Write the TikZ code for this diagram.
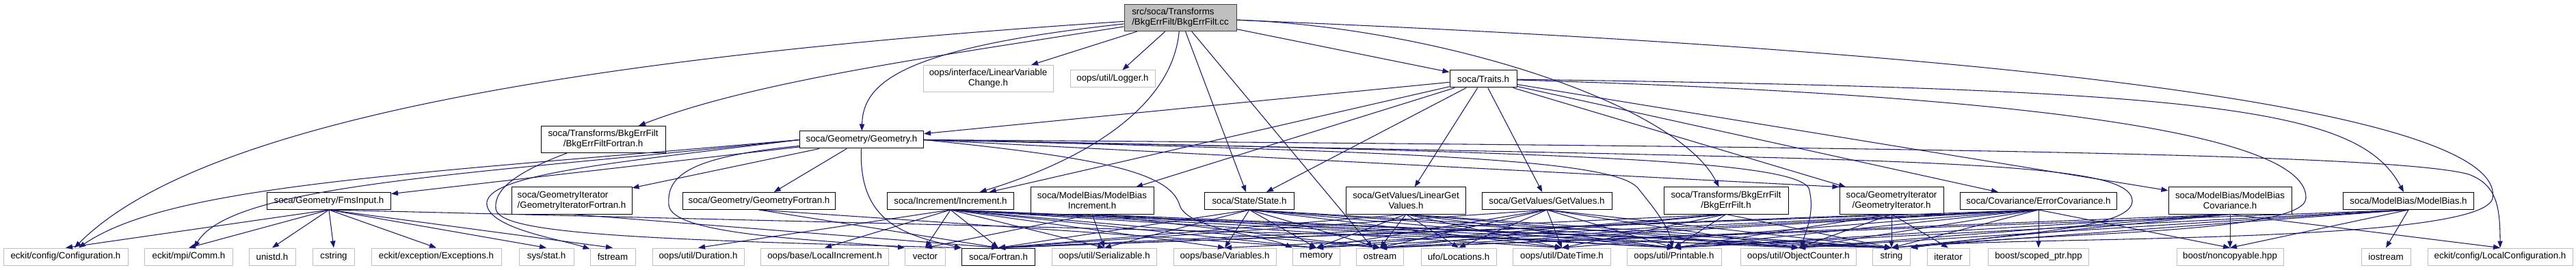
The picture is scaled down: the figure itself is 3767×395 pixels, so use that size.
\documentclass[tikz,border=0pt]{standalone}
\usepackage{fontspec}
\setmainfont{Liberation Sans}
\usetikzlibrary{arrows.meta}
\definecolor{edgeblue}{HTML}{191970}
\definecolor{extgray}{HTML}{BFBFBF}

\begin{document}
\begin{tikzpicture}[x=0.75pt,y=-0.75pt]
\tikzset{
file box/.style={rectangle,inner sep=0pt,minimum height=18.75pt,line width=0.75pt,font=\fontsize{10}{11.25}\selectfont,align=center},
soca node/.style={file box,draw=black},
ext node/.style={file box,draw=extgray},
root node/.style={file box,draw=black!75,fill=extgray},
two lines/.style={minimum height=29.25pt},
wd/.style={minimum width=#1*0.75pt},
dep/.style={edgeblue,line width=0.8pt,-{Triangle[length=7.5pt,width=5.5pt]}}
}
\useasboundingbox (0,0) rectangle (3767,395);

% the file itself and its direct includes
\node(cc)[root node,wd=164,two lines,align=left] at (1726,26) {src/soca/Transforms\\/BkgErrFilt/BkgErrFilt.cc};
\node(lvc)[ext node,wd=190,two lines] at (1445,115) {oops/interface/LinearVariable\\Change.h};
\node(logger)[ext node,wd=124] at (1627,115.5) {oops/util/Logger.h};
\node(traits)[soca node,wd=98] at (2169,115.5) {soca/Traits.h};
\node(bkfort)[soca node,wd=182,two lines] at (882,204) {soca/Transforms/BkgErrFilt\\/BkgErrFiltFortran.h};
\node(geom)[soca node,wd=181] at (1260,204.5) {soca/Geometry/Geometry.h};

% soca headers
\node(fms)[soca node,wd=181] at (481,294) {soca/Geometry/FmsInput.h};
\node(gitfort)[soca node,wd=176,two lines,align=left] at (836,293.5) {soca/GeometryIterator\\/GeometryIteratorFortran.h};
\node(gfort)[soca node,wd=223] at (1110,294) {soca/Geometry/GeometryFortran.h};
\node(incr)[soca node,wd=185] at (1390,294) {soca/Increment/Increment.h};
\node(mbinc)[soca node,wd=180,two lines] at (1597,293.5) {soca/ModelBias/ModelBias\\Increment.h};
\node(state)[soca node,wd=131] at (1827,294) {soca/State/State.h};
\node(lgv)[soca node,wd=175,two lines] at (2056,293.5) {soca/GetValues/LinearGet\\Values.h};
\node(gv)[soca node,wd=190] at (2262,294) {soca/GetValues/GetValues.h};
\node(bkf)[soca node,wd=182,two lines] at (2524,293.5) {soca/Transforms/BkgErrFilt\\/BkgErrFilt.h};
\node(git)[soca node,wd=152,two lines] at (2766,293.5) {soca/GeometryIterator\\/GeometryIterator.h};
\node(ecov)[soca node,wd=229] at (2981,294) {soca/Covariance/ErrorCovariance.h};
\node(mbcov)[soca node,wd=180,two lines] at (3261,293.5) {soca/ModelBias/ModelBias\\Covariance.h};
\node(mb)[soca node,wd=191] at (3522,294) {soca/ModelBias/ModelBias.h};

% bottom row
\node(conf)[ext node,wd=182] at (96,375.5) {eckit/config/Configuration.h};
\node(comm)[ext node,wd=129] at (276,375.5) {eckit/mpi/Comm.h};
\node(unistd)[ext node,wd=68] at (398,375.5) {unistd.h};
\node(cstring)[ext node,wd=61] at (488,375.5) {cstring};
\node(except)[ext node,wd=190] at (638,375.5) {eckit/exception/Exceptions.h};
\node(stat)[ext node,wd=80] at (799,375.5) {sys/stat.h};
\node(fstream)[ext node,wd=66] at (896,375.5) {fstream};
\node(duration)[ext node,wd=134] at (1021,375.5) {oops/util/Duration.h};
\node(locinc)[ext node,wd=187] at (1206,375.5) {oops/base/LocalIncrement.h};
\node(vector)[ext node,wd=59] at (1353,375.5) {vector};
\node(fortran)[soca node,wd=107] at (1460,375.5) {soca/Fortran.h};
\node(serial)[ext node,wd=153] at (1615,375.5) {oops/util/Serializable.h};
\node(vars)[ext node,wd=150] at (1791,375.5) {oops/base/Variables.h};
\node(memory)[ext node,wd=69] at (1925,375.5) {memory};
\node(ostream)[ext node,wd=69] at (2018,375.5) {ostream};
\node(locs)[ext node,wd=110] at (2133,375.5) {ufo/Locations.h};
\node(datetime)[ext node,wd=143] at (2284,375.5) {oops/util/DateTime.h};
\node(printable)[ext node,wd=138] at (2448,375.5) {oops/util/Printable.h};
\node(objcnt)[ext node,wd=169] at (2630,375.5) {oops/util/ObjectCounter.h};
\node(string)[ext node,wd=55] at (2766,375.5) {string};
\node(iterator)[ext node,wd=62] at (2849,375.5) {iterator};
\node(scoped)[ext node,wd=147] at (2981,375.5) {boost/scoped\_ptr.hpp};
\node(noncopy)[ext node,wd=156] at (3261,375.5) {boost/noncopyable.hpp};
\node(iostream)[ext node,wd=72] at (3489,375.5) {iostream};
\node(lconf)[ext node,wd=212] at (3656,375.5) {eckit/config/LocalConfiguration.h};

% includes of the .cc
\draw[dep] (cc) -- (lvc);
\draw[dep] (cc) -- (logger);
\draw[dep] (cc) -- (traits);
\draw[dep] (cc) -- (state);
\draw[dep] (cc) -- (ostream);
\draw[dep] (cc) .. controls (1350,85) and (1100,120) .. (bkfort);
\draw[dep] (cc) .. controls (900,80) and (300,170) .. (conf);
\draw[dep] (cc) .. controls (1320,70) and (1262,120) .. (geom);
\draw[dep] (cc) .. controls (1715,150) and (1600,230) .. (incr);
\draw[dep] (cc) .. controls (2100,40) and (2450,150) .. (bkf);
\draw[dep] (cc) .. controls (3300,90) and (3660,200) .. (3645,290) .. controls (3630,360) and (2900,345) .. (string.north east);

% soca/Traits.h
\foreach \t in {geom,incr,mbinc,state,lgv,gv,git,ecov,mbcov}
  \draw[dep] (traits) -- (\t);
\draw[dep] (traits) .. controls (3250,130) and (3450,160) .. (mb);
\draw[dep] (traits) .. controls (3000,140) and (3375,200) .. (3372,290) .. controls (3370,345) and (2950,340) .. (string.north east);

% soca/Geometry/Geometry.h
\draw[dep] (geom) -- (fms);
\draw[dep] (geom) -- (gitfort);
\draw[dep] (geom) -- (gfort);
\draw[dep] (geom.east) -- (git.north west);
\draw[dep] (geom.west) .. controls (600,255) and (250,270) .. (conf);
\draw[dep] (geom.west) .. controls (700,255) and (340,268) .. (comm);
\draw[dep] (geom.west) .. controls (900,238) and (705,255) .. (712,300) .. controls (718,335) and (820,350) .. (fstream);
\draw[dep] (geom) .. controls (1000,230) and (975,260) .. (978,300) .. controls (982,345) and (1200,350) .. (vector.north west);
\draw[dep] (geom) .. controls (1255,330) and (1330,345) .. (fortran);
\draw[dep] (geom.east) .. controls (1600,230) and (1710,250) .. (1725,300) .. controls (1735,335) and (1850,345) .. (memory.north west);
\draw[dep] (geom.east) .. controls (2100,222) and (2360,235) .. (2395,275) .. controls (2415,300) and (2440,330) .. (printable);
\draw[dep] (geom.east) .. controls (2300,222) and (2620,235) .. (2645,275) .. controls (2655,310) and (2640,340) .. (objcnt);
\draw[dep] (geom.east) .. controls (2800,235) and (3120,230) .. (3118,295) .. controls (3115,335) and (2950,340) .. (string.north east);
\draw[dep] (geom.east) .. controls (2800,215) and (3500,225) .. (3610,255) .. controls (3650,270) and (3656,300) .. (lconf);

% fortran interfaces
\draw[dep] (bkfort) .. controls (760,250) and (722,275) .. (725,305) .. controls (728,340) and (900,350) .. (fortran.north west);
\draw[dep] (gitfort.south) -- (fortran.north);
\foreach \t in {fortran,memory}
  \draw[dep] (gfort.south) -- (\t.north);

% second level headers
\foreach \t in {conf,comm,unistd,cstring,except,stat,fstream,string}
  \draw[dep] (fms.south) -- (\t.north);
\foreach \t in {locinc,vector,fortran,serial,vars,duration,memory,ostream,datetime,printable,objcnt,string}
  \draw[dep] (incr.south) -- (\t.north);
\foreach \t in {vector,serial,ostream,printable,string}
  \draw[dep] (mbinc.south) -- (\t.north);
\foreach \t in {fortran,serial,vars,memory,ostream,datetime,printable,objcnt,string}
  \draw[dep] (state.south) -- (\t.north);
\foreach \t in {fortran,memory,ostream,locs,datetime,printable,objcnt,string}
  \draw[dep] (lgv.south) -- (\t.north);
\foreach \t in {fortran,memory,ostream,locs,datetime,printable,objcnt,string}
  \draw[dep] (gv.south) -- (\t.north);
\foreach \t in {fortran,memory,ostream,datetime,printable,string}
  \draw[dep] (bkf.south) -- (\t.north);
\foreach \t in {fortran,printable,objcnt,string,iterator}
  \draw[dep] (git.south) -- (\t.north);
\foreach \t in {fortran,vars,memory,ostream,datetime,printable,objcnt,string,scoped,noncopy}
  \draw[dep] (ecov.south) -- (\t.north);
\foreach \t in {ostream,string,printable,objcnt,noncopy,lconf}
  \draw[dep] (mbcov.south) -- (\t.north);
\foreach \t in {iostream,noncopy,printable,objcnt,string,ostream}
  \draw[dep] (mb.south) -- (\t.north);
\end{tikzpicture}
\end{document}
